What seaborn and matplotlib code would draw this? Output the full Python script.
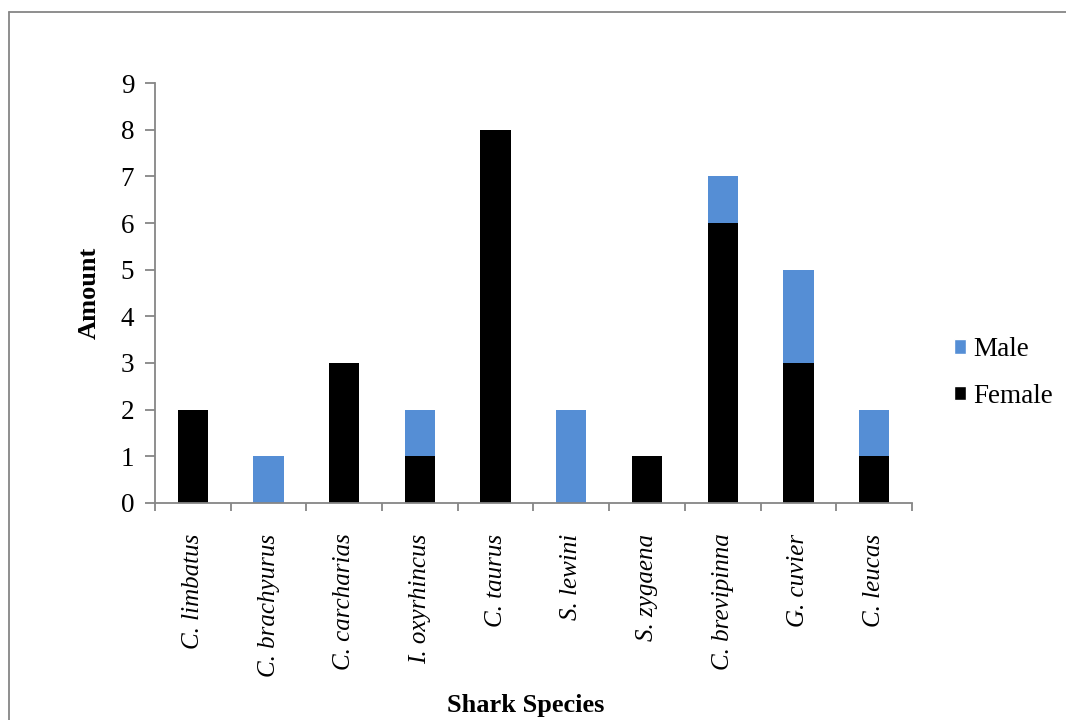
import matplotlib
matplotlib.use("Agg")
import matplotlib.pyplot as plt
from matplotlib.lines import Line2D
from matplotlib.patches import Patch
from matplotlib.ticker import FixedLocator
import numpy as np
import pandas as pd
import seaborn as sns

species = ["C. limbatus", "C. brachyurus", "C. carcharias", "I. oxyrhincus", "C. taurus",
           "S. lewini", "S. zygaena", "C. brevipinna", "G. cuvier", "C. leucas"]
female = [2, 0, 3, 1, 8, 0, 1, 6, 3, 1]
male = [0, 1, 0, 1, 0, 2, 0, 1, 2, 1]
y_ticks = [0, 1, 2, 3, 4, 5, 6, 7, 8, 9]

male_color = "#558ED5"
female_color = "#000000"
axis_color = "#868686"

sns.set_theme(style="white")
plt.rcParams["font.family"] = ["Liberation Serif", "DejaVu Serif"]
plt.rcParams["text.color"] = "black"
plt.rcParams["axes.labelcolor"] = "black"

df = pd.DataFrame({"species": species, "female": female, "male": male})
df["total"] = df["female"] + df["male"]

fig = plt.figure(figsize=(10.66, 7.2), dpi=100)
ax = fig.add_axes([0.1454, 0.3014, 0.7101, 0.5833])

# stacked bars: total (male on top) first, then female covering the lower part
sns.barplot(data=df, x="species", y="total", color=male_color, width=0.4,
            saturation=1, ax=ax, linewidth=0)
sns.barplot(data=df, x="species", y="female", color=female_color, width=0.4,
            saturation=1, ax=ax, linewidth=0)

ax.set_xlim(-0.5, len(species) - 0.5)
ax.set_ylim(0, 9)
ax.set_yticks(y_ticks)
ax.set_yticklabels([str(v) for v in y_ticks], fontsize=19.5)

ax.set_xticks(range(len(species)))
ax.set_xticklabels(species, rotation=90, fontsize=18, style="italic", va="top")
ax.tick_params(axis="x", which="major", length=0, pad=22, labelcolor="black")
ax.xaxis.set_minor_locator(FixedLocator(np.arange(-0.5, len(species), 1.0)))
ax.tick_params(axis="x", which="minor", bottom=True, length=6, width=1.3, color=axis_color,
               direction="out")
ax.tick_params(axis="y", which="major", left=True, length=7, width=1.3, color=axis_color,
               direction="out", pad=8, labelcolor="black")

for side in ["top", "right"]:
    ax.spines[side].set_visible(False)
for side in ["left", "bottom"]:
    ax.spines[side].set_color(axis_color)
    ax.spines[side].set_linewidth(1.3)

ax.set_xlabel("Shark Species", fontsize=19, fontweight="bold")
ax.set_ylabel("Amount", fontsize=19, fontweight="bold")
ax.xaxis.set_label_coords(0.49, -0.455)
ax.yaxis.set_label_coords(-0.072, 0.5)

handles = [Patch(facecolor=male_color, label="Male"),
           Patch(facecolor=female_color, label="Female")]
fig.legend(handles=handles, loc="center left", bbox_to_anchor=(0.872, 0.482),
           frameon=False, fontsize=19.5, handlelength=0.45, handleheight=0.45,
           handletextpad=0.25, labelspacing=0.8)

# chart-area border (open on the right and bottom)
fig.add_artist(Line2D([9 / 1066, 9 / 1066], [0, 1 - 12 / 720], color=axis_color, lw=1.3,
                      transform=fig.transFigure))
fig.add_artist(Line2D([9 / 1066, 1], [1 - 12 / 720, 1 - 12 / 720], color=axis_color, lw=1.3,
                      transform=fig.transFigure))

fig.savefig("out.png", dpi=100, facecolor="white")
